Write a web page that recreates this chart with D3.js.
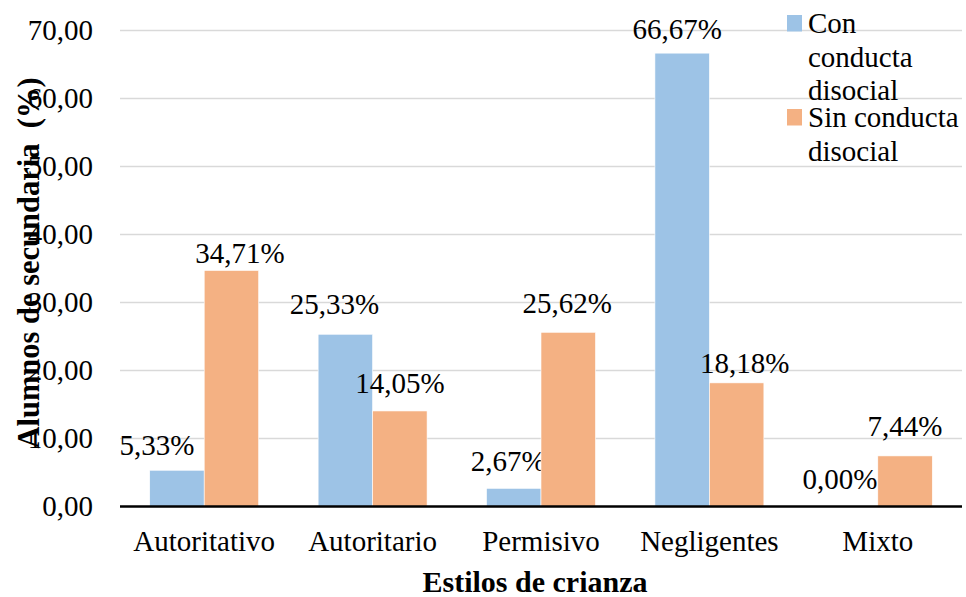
<!DOCTYPE html>
<html>
<head>
<meta charset="utf-8">
<script src="https://cdn.jsdelivr.net/npm/d3@7"></script>
<style>
  body { margin: 0; background: #fff; }
</style>
</head>
<body>
<script>
// datos del grafico
var categories = ["Autoritativo", "Autoritario", "Permisivo", "Negligentes", "Mixto"];
var seriesNames = ["Con conducta disocial", "Sin conducta disocial"];
var conValues = [5.33, 25.33, 2.67, 66.67, 0.00];
var sinValues = [34.71, 14.05, 25.62, 18.18, 7.44];
var yTicks = [0, 10, 20, 30, 40, 50, 60, 70];

// etiquetas movidas a mano en el original (dx, dy)
var conNudge = [[-20, 2.5], [-11, -2], [-5.5, 1], [-5, 4], [-10.5, 0]];
var sinNudge = [[8.5, 10.5], [0, 0], [-1, -1.5], [8, 8], [0, -1.5]];

var colors = ["#9DC3E6", "#F4B183"];
var width = 966, height = 597;
var fontSize = 29;
var serif = "'Liberation Serif'";

var svg = d3.select("body").append("svg")
    .attr("width", width)
    .attr("height", height);

var x = d3.scaleBand()
    .domain(categories)
    .range([120, 962])
    .paddingInner(0.353)
    .paddingOuter(0.1765);

var xSub = d3.scaleBand()
    .domain([0, 1])
    .range([0, x.bandwidth()]);

var y = d3.scaleLinear()
    .domain([0, 70])
    .range([506.5, 30.5]);

var fmt = function(v) { return d3.format(".2f")(v).replace(".", ","); };

// gridlines
svg.append("g")
  .selectAll("line")
  .data(yTicks.slice(1))
  .enter().append("line")
    .attr("x1", 120)
    .attr("x2", 962)
    .attr("y1", function(d) { return y(d); })
    .attr("y2", function(d) { return y(d); })
    .style("stroke", "#d9d9d9")
    .style("stroke-width", 1.3);

// y tick labels
svg.append("g")
  .selectAll("text")
  .data(yTicks)
  .enter().append("text")
    .attr("x", 93)
    .attr("y", function(d) { return y(d); })
    .attr("dy", "0.32em")
    .attr("text-anchor", "end")
    .style("font-family", serif)
    .style("font-size", fontSize + "px")
    .text(function(d) { return fmt(d); });

// barras
var series = [conValues, sinValues];
var nudges = [conNudge, sinNudge];
series.forEach(function(vals, s) {
  var g = svg.append("g");
  g.selectAll("rect")
    .data(vals)
    .enter().append("rect")
      .attr("x", function(d, i) { return x(categories[i]) + xSub(s); })
      .attr("y", function(d) { return y(d); })
      .attr("width", xSub.bandwidth())
      .attr("height", function(d) { return y(0) - y(d); })
      .style("fill", colors[s])
      .style("stroke", "#fff")
      .style("stroke-width", 0.6);

  g.selectAll("text")
    .data(vals)
    .enter().append("text")
      .attr("x", function(d, i) { return x(categories[i]) + xSub(s) + xSub.bandwidth() / 2 + nudges[s][i][0]; })
      .attr("y", function(d, i) { return y(d) - 18 + nudges[s][i][1]; })
      .attr("text-anchor", "middle")
      .style("font-family", serif)
      .style("font-size", fontSize + "px")
      .text(function(d) { return fmt(d) + "%"; });
});

// eje x
svg.append("line")
    .attr("x1", 120)
    .attr("x2", 962)
    .attr("y1", y(0))
    .attr("y2", y(0))
    .style("stroke", "#000")
    .style("stroke-width", 2.5);

svg.append("g")
  .selectAll("text")
  .data(categories)
  .enter().append("text")
    .attr("x", function(d) { return x(d) + x.bandwidth() / 2; })
    .attr("y", 551)
    .attr("text-anchor", "middle")
    .style("font-family", serif)
    .style("font-size", fontSize + "px")
    .text(function(d) { return d; });

// titulos
svg.append("text")
    .attr("x", 535)
    .attr("y", 592)
    .attr("text-anchor", "middle")
    .style("font-family", serif)
    .style("font-size", "30px")
    .style("font-weight", "bold")
    .text("Estilos de crianza");

svg.append("text")
    .attr("transform", "translate(39,263) rotate(-90)")
    .attr("text-anchor", "middle")
    .style("font-family", serif)
    .style("font-size", "30.5px")
    .style("font-weight", "bold")
    .style("white-space", "pre")
    .text("Alumnos de secundaria  (%)");

// leyenda
var legendLines = [["Con", "conducta", "disocial"], ["Sin conducta", "disocial"]];
var legendTop = [33, 127];
legendLines.forEach(function(lines, s) {
  svg.append("rect")
      .attr("x", 787)
      .attr("y", legendTop[s] - 18)
      .attr("width", 15)
      .attr("height", 16.5)
      .style("fill", colors[s]);
  var t = svg.append("text")
      .attr("x", 808)
      .attr("y", legendTop[s])
      .style("font-family", serif)
      .style("font-size", fontSize + "px");
  lines.forEach(function(l, k) {
    t.append("tspan")
      .attr("x", 808)
      .attr("dy", k === 0 ? 0 : 33.5)
      .text(l);
  });
});
</script>
</body>
</html>
